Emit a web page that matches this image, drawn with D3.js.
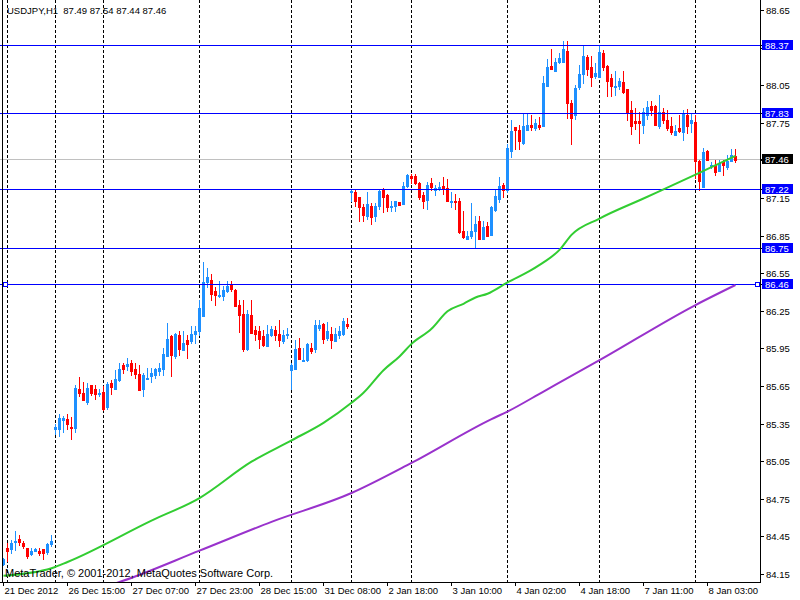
<!DOCTYPE html>
<html>
<head>
<meta charset="utf-8">
<script src="https://cdn.jsdelivr.net/npm/d3@7"></script>
<style>
  body { margin: 0; background: #fff; }
  text { font-family: "Liberation Sans", Arial, sans-serif; }
</style>
</head>
<body>
<div id="chart"></div>
<script>

// USDJPY H1 candles, one entry per bar (bar index = position in array)
var opens  = [84.23,84.36,84.35,84.41,84.43,84.40,84.36,84.31,84.34,84.34,84.35,84.33,84.39,
  85.31,85.31,85.38,85.39,85.33,85.32,85.63,85.60,85.53,85.66,85.63,85.59,85.61,85.49,85.68,85.63,85.70,85.82,85.81,85.84,85.79,85.75,85.63,85.71,85.73,85.74,85.77,85.79,85.89,86.05,85.89,86.06,85.94,86.02,86.01,86.07,86.09,
  86.21,86.48,86.50,86.41,86.37,86.37,86.41,86.46,86.42,86.30,86.23,85.95,86.22,86.10,86.09,86.05,85.97,86.06,86.10,86.07,86.01,86.06,
  85.78,85.79,85.96,85.85,85.86,85.96,85.95,86.12,86.15,86.04,86.07,86.01,86.06,86.07,86.15,
  87.20,87.20,87.16,87.08,87.01,87.09,87.01,87.09,87.22,87.18,87.08,87.09,87.12,87.11,87.25,
  87.33,87.33,87.27,87.18,87.14,87.27,87.22,87.23,87.25,87.23,87.12,87.13,87.13,86.89,86.83,86.85,86.89,86.97,86.83,86.93,86.86,87.06,87.15,87.26,
  87.22,87.53,87.72,87.70,87.59,87.70,87.74,87.71,87.74,87.73,88.05,88.21,88.17,88.24,88.24,88.33,87.91,87.82,88.04,88.14,88.28,88.20,88.13,
  88.12,88.31,88.21,88.11,88.04,88.05,88.08,88.02,87.86,87.77,87.77,87.74,87.82,87.89,87.89,87.73,87.84,87.78,87.73,87.66,87.71,87.68,87.82,87.75,
  87.76,87.45,87.24,87.53,87.41,87.42,87.37,87.44,87.40,87.45,87.49];
var highs  = [84.28,84.40,84.42,84.49,84.46,84.41,84.36,84.36,84.36,84.36,84.35,84.40,84.46,
  85.35,85.43,85.41,85.43,85.40,85.66,85.72,85.68,85.67,85.66,85.66,85.63,85.65,85.68,85.70,85.78,85.83,85.83,85.87,85.86,85.83,85.82,85.75,85.79,85.79,85.79,85.83,85.95,86.15,86.06,86.07,86.09,86.09,86.06,86.13,86.13,86.34,
  86.64,86.59,86.54,86.44,86.49,86.45,86.49,86.49,86.42,86.34,86.34,86.26,86.34,86.13,86.13,86.10,86.14,86.13,86.13,86.18,86.10,86.11,
  85.83,86.02,86.03,85.95,85.99,85.99,86.18,86.18,86.15,86.16,86.12,86.11,86.13,86.19,86.19,
  87.22,87.22,87.16,87.10,87.20,87.11,87.11,87.22,87.23,87.18,87.13,87.13,87.12,87.28,87.34,
  87.34,87.34,87.28,87.20,87.28,87.31,87.25,87.28,87.32,87.30,87.20,87.18,87.15,87.05,86.89,87.11,87.01,87.01,86.97,86.96,87.09,87.21,87.32,87.27,
  87.58,87.77,87.72,87.73,87.83,87.83,87.81,87.78,87.80,88.12,88.26,88.34,88.27,88.31,88.40,88.40,87.93,88.05,88.21,88.37,88.29,88.28,88.23,
  88.37,88.33,88.21,88.14,88.16,88.11,88.16,88.02,87.92,87.87,87.84,87.87,87.92,87.92,87.89,87.97,87.87,87.85,87.80,87.73,87.81,87.85,87.86,87.82,
  87.81,87.45,87.55,87.53,87.44,87.45,87.45,87.45,87.49,87.54,87.54];
var lows   = [84.22,84.25,84.32,84.34,84.38,84.36,84.28,84.30,84.33,84.30,84.27,84.31,84.37,
  85.27,85.25,85.28,85.31,85.23,85.28,85.57,85.54,85.51,85.58,85.55,85.57,85.46,85.47,85.59,85.63,85.69,85.75,85.78,85.74,85.71,85.62,85.57,85.71,85.68,85.71,85.74,85.74,85.89,85.73,85.87,85.90,85.94,85.87,85.99,85.99,86.06,
  86.21,86.44,86.34,86.30,86.36,86.34,86.40,86.41,86.29,86.08,85.93,85.94,86.07,86.02,85.95,85.97,85.97,86.05,86.02,85.97,85.99,86.03,
  85.63,85.79,85.87,85.85,85.85,85.91,85.92,86.10,85.99,86.02,85.95,86.01,86.03,86.06,86.11,
  87.13,87.09,86.97,86.97,86.98,86.94,86.97,87.06,87.04,87.05,87.05,87.05,87.10,87.10,87.24,
  87.27,87.26,87.14,87.07,87.06,87.21,87.17,87.21,87.18,87.13,87.08,87.06,86.87,86.83,86.83,86.83,86.75,86.83,86.82,86.85,86.86,87.05,87.12,87.16,
  87.20,87.48,87.54,87.54,87.58,87.69,87.69,87.69,87.70,87.73,88.05,88.18,88.16,88.23,88.24,87.79,87.58,87.78,88.02,88.07,88.13,88.04,88.11,
  88.12,88.17,87.96,87.96,87.97,88.02,87.99,87.77,87.66,87.70,87.59,87.67,87.78,87.81,87.73,87.71,87.75,87.69,87.66,87.65,87.68,87.61,87.67,87.68,
  87.31,87.21,87.24,87.45,87.39,87.33,87.37,87.33,87.38,87.45,87.44];
var closes = [84.27,84.34,84.40,84.42,84.41,84.38,84.30,84.34,84.35,84.32,84.32,84.39,84.42,
  85.33,85.40,85.40,85.35,85.32,85.64,85.60,85.54,85.64,85.60,85.59,85.60,85.47,85.67,85.65,85.71,85.79,85.79,85.83,85.77,85.75,85.62,85.74,85.72,85.76,85.79,85.80,85.91,86.03,85.90,86.07,85.95,86.00,85.99,86.07,86.09,86.28,
  86.48,86.52,86.39,86.38,86.38,86.42,86.45,86.43,86.29,86.22,85.95,86.23,86.08,86.07,86.03,85.98,86.07,86.11,86.06,86.02,86.06,86.07,
  85.82,85.95,85.87,85.86,85.99,85.93,86.14,86.14,86.03,86.09,86.02,86.07,86.09,86.17,86.13,
  87.21,87.13,87.08,87.02,87.11,87.00,87.09,87.21,87.16,87.08,87.09,87.13,87.10,87.25,87.34,
  87.31,87.27,87.16,87.13,87.26,87.24,87.23,87.24,87.23,87.13,87.13,87.12,86.88,86.84,86.85,86.89,86.95,86.83,86.92,86.85,87.08,87.17,87.25,87.22,
  87.55,87.69,87.70,87.61,87.73,87.74,87.72,87.75,87.72,88.07,88.20,88.18,88.24,88.27,88.34,87.91,87.79,88.03,88.14,88.29,88.18,88.12,88.15,
  88.32,88.20,88.09,88.05,88.05,88.09,88.00,87.84,87.73,87.75,87.75,87.84,87.88,87.86,87.74,87.84,87.78,87.71,87.68,87.69,87.69,87.83,87.73,87.78,
  87.45,87.29,87.52,87.46,87.42,87.36,87.43,87.42,87.45,87.50,87.46];

// moving averages read at a few bars
var maFastIdx = [0, 12, 16, 37, 49, 62, 72, 80, 87, 90, 95, 99, 102, 107, 111, 115, 118, 121, 126, 132, 135, 139, 142, 149, 160, 173, 183];
var maFastVal = [84.14, 84.20, 84.25, 84.58, 84.76, 85.05, 85.22, 85.36, 85.52, 85.60, 85.78, 85.89, 85.99, 86.11, 86.25, 86.31, 86.36, 86.39, 86.48, 86.58, 86.64, 86.74, 86.86, 86.99, 87.15, 87.34, 87.49];
var maSlowIdx = [25, 29, 49, 67, 87, 102, 122, 126, 135, 149, 173, 183];
var maSlowVal = [84.05, 84.09, 84.34, 84.57, 84.80, 85.04, 85.39, 85.45, 85.61, 85.86, 86.30, 86.46];

// horizontal levels, bid line
var levels = [88.37, 87.83, 87.22, 86.75, 86.46];
var bid = 87.46;

// day separators (bar index)
var separators = [1, 13, 25, 49, 72, 87, 102, 126, 149, 173];

var priceTicks = [84.15, 84.45, 84.75, 85.05, 85.35, 85.65, 85.95, 86.25, 86.55, 86.85, 87.15, 87.45, 87.75, 88.05, 88.35, 88.65];
var timeLabels = ["21 Dec 2012", "26 Dec 15:00", "27 Dec 07:00", "27 Dec 23:00", "28 Dec 15:00", "31 Dec 08:00",
  "2 Jan 18:00", "3 Jan 10:00", "4 Jan 02:00", "4 Jan 18:00", "7 Jan 11:00", "8 Jan 03:00"];
var barsPerLabel = 16;

var W = 800, H = 600;
var plotRight = 760, plotBottom = 582;
var upColor = "#1e90ff", downColor = "#ff0000", levelColor = "#0000ff";

var svg = d3.select("#chart").append("svg")
    .attr("width", W).attr("height", H)
    .attr("shape-rendering", "crispEdges");

var x = d3.scaleLinear().domain([0, 1]).range([3.5, 7.5]);
var y = d3.scaleLinear().domain([84.15, 88.65]).range([574.5, 10.5]);

function py(v) { return Math.round(y(v) - 0.5) + 0.5; }

svg.append("defs").append("clipPath")
    .attr("id", "clip")
  .append("rect")
    .attr("width", plotRight)
    .attr("height", plotBottom);

var plot = svg.append("g").attr("clip-path", "url(#clip)");

// period separators
plot.selectAll(".sep")
    .data(separators)
  .enter().append("line")
    .attr("class", "sep")
    .attr("x1", function(d) { return x(d); })
    .attr("x2", function(d) { return x(d); })
    .attr("y1", 0).attr("y2", plotBottom)
    .attr("stroke", "#000")
    .attr("stroke-dasharray", "3,2");

// bid line
plot.append("line")
    .attr("x1", 0).attr("x2", plotRight)
    .attr("y1", py(bid)).attr("y2", py(bid))
    .attr("stroke", "#c0c0c0");

// candles
var bars = d3.range(opens.length);
var candle = plot.selectAll(".candle")
    .data(bars)
  .enter().append("g")
    .attr("class", "candle");

candle.append("line")
    .attr("x1", function(i) { return x(i); })
    .attr("x2", function(i) { return x(i); })
    .attr("y1", function(i) { return py(highs[i]) - 0.5; })
    .attr("y2", function(i) { return py(lows[i]) + 0.5; })
    .attr("stroke", function(i) { return closes[i] >= opens[i] ? upColor : downColor; });

candle.append("rect")
    .attr("x", function(i) { return x(i) - 1.5; })
    .attr("width", 3)
    .attr("y", function(i) { return Math.round(y(Math.max(opens[i], closes[i]))); })
    .attr("height", function(i) {
        return Math.max(1, Math.round(y(Math.min(opens[i], closes[i]))) - Math.round(y(Math.max(opens[i], closes[i]))) + 1);
    })
    .attr("fill", function(i) { return closes[i] >= opens[i] ? upColor : downColor; });

// horizontal lines
plot.selectAll(".level")
    .data(levels)
  .enter().append("rect")
    .attr("class", "level")
    .attr("x", 0).attr("width", plotRight)
    .attr("y", function(d) { return py(d) - 0.5; })
    .attr("height", 1)
    .style("fill", levelColor);

// moving averages
var maLine = d3.line()
    .curve(d3.curveMonotoneX)
    .x(function(d) { return x(d[0]); })
    .y(function(d) { return y(d[1]); });

plot.append("path")
    .datum(d3.zip(maSlowIdx, maSlowVal))
    .attr("d", maLine)
    .attr("fill", "none")
    .attr("stroke", "#9932cc")
    .attr("stroke-width", 2)
    .attr("shape-rendering", "auto");

plot.append("path")
    .datum(d3.zip(maFastIdx, maFastVal))
    .attr("d", maLine)
    .attr("fill", "none")
    .attr("stroke", "#32cd32")
    .attr("stroke-width", 2)
    .attr("shape-rendering", "auto");

// selected line handles
var sel = levels[levels.length - 1];
[5, 757.5].forEach(function(hx) {
    svg.append("rect")
        .attr("x", hx - 2).attr("y", py(sel) - 2)
        .attr("width", 4).attr("height", 4)
        .attr("fill", "#fff")
        .attr("stroke", levelColor);
});

// frame
svg.append("line").attr("x1", 2.5).attr("x2", 2.5).attr("y1", 0).attr("y2", plotBottom + 0.5).attr("stroke", "#000");
svg.append("line").attr("x1", plotRight + 0.5).attr("x2", plotRight + 0.5).attr("y1", 0).attr("y2", plotBottom + 0.5).attr("stroke", "#000");
svg.append("line").attr("x1", 0).attr("x2", plotRight + 1).attr("y1", plotBottom + 0.5).attr("y2", plotBottom + 0.5).attr("stroke", "#000");

// price axis (labels hidden where a line tag sits on them)
var tags = levels.concat([bid]);
var shownTicks = priceTicks.filter(function(t) {
    return tags.every(function(v) { return Math.abs(y(t) - y(v)) >= 5; });
});

var yAxis = svg.append("g").attr("class", "axis axis--y");
yAxis.selectAll("line")
    .data(priceTicks)
  .enter().append("line")
    .attr("x1", plotRight).attr("x2", plotRight + 4)
    .attr("y1", function(d) { return py(d); })
    .attr("y2", function(d) { return py(d); })
    .attr("stroke", "#000");
yAxis.selectAll("text")
    .data(shownTicks)
  .enter().append("text")
    .attr("x", 766)
    .attr("y", function(d) { return py(d); })
    .attr("dy", "0.35em")
    .attr("font-size", "9.5px")
    .attr("fill", "#000")
    .text(function(d) { return d.toFixed(2); });

// price labels of lines
function priceTag(v, bg) {
    var g = svg.append("g");
    g.append("line")
        .attr("x1", plotRight).attr("x2", plotRight + 4)
        .attr("y1", py(v)).attr("y2", py(v))
        .attr("stroke", "#000");
    g.append("rect")
        .attr("x", 762).attr("y", py(v) - 5.5)
        .attr("width", 31).attr("height", 10)
        .attr("fill", bg);
    g.append("text")
        .attr("x", 765).attr("y", py(v))
        .attr("dy", "0.35em")
        .attr("font-size", "9.5px")
        .attr("fill", "#fff")
        .text(v.toFixed(2));
}
levels.forEach(function(v) { priceTag(v, levelColor); });
priceTag(bid, "#000");

// time axis
var xAxis = svg.append("g").attr("class", "axis axis--x");
xAxis.selectAll("line")
    .data(timeLabels)
  .enter().append("line")
    .attr("x1", function(d, k) { return x(k * barsPerLabel); })
    .attr("x2", function(d, k) { return x(k * barsPerLabel); })
    .attr("y1", plotBottom).attr("y2", plotBottom + 4)
    .attr("stroke", "#000");
xAxis.selectAll("text")
    .data(timeLabels)
  .enter().append("text")
    .attr("x", function(d, k) { return x(k * barsPerLabel) + 1; })
    .attr("y", 594)
    .attr("font-size", "9.5px")
    .attr("fill", "#000")
    .text(function(d) { return d; });

// header and copyright
svg.append("text")
    .attr("x", 7).attr("y", 14)
    .attr("font-size", "9.5px")
    .attr("fill", "#000")
    .attr("xml:space", "preserve")
    .style("white-space", "pre")
    .text("USDJPY,H1  " + [opens[183], highs[183], lows[183], closes[183]].map(function(v) { return v.toFixed(2); }).join(" "));

svg.append("text")
    .attr("x", 5).attr("y", 577)
    .attr("font-size", "11px")
    .attr("fill", "#000")
    .text("MetaTrader, \u00a9 2001-2012, MetaQuotes Software Corp.");

</script>
</body>
</html>
